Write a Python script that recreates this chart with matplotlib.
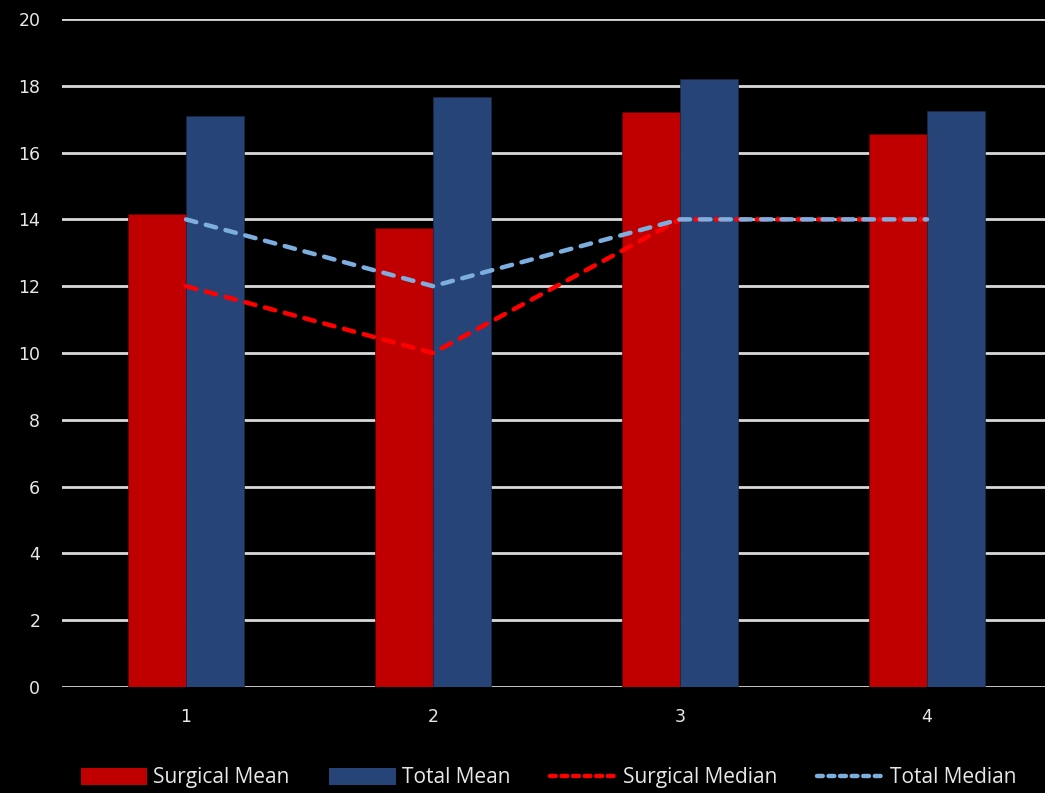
import numpy as np
import matplotlib.pyplot as plt
from matplotlib.patches import Patch
from matplotlib.lines import Line2D

categories = ["1", "2", "3", "4"]
surgical_mean = [14.15, 13.75, 17.2, 16.55]
total_mean = [17.1, 17.65, 18.2, 17.25]
surgical_median = [12, 10, 14, 14]
total_median = [14, 12, 14, 14]

RED_BAR = "#c00000"
BLUE_BAR = "#264478"
RED_LINE = "#ff0000"
BLUE_LINE = "#7cafdf"
GRID = "#d9d9d9"
TEXT = "#e8e8e8"

plt.rcParams["font.family"] = ["DejaVu Sans"]

fig = plt.figure(figsize=(10.45, 7.93), dpi=100, facecolor="black")
ax = fig.add_axes([0.0598, 0.1337, 0.9455, 0.8424], facecolor="black")

x = np.arange(len(categories))
w = 0.236
DASH = (0, (2.4, 2.2))
ax.bar(x - w / 2, surgical_mean, w, color=RED_BAR, edgecolor="#5a0000",
       linewidth=0.5, zorder=3)
ax.bar(x + w / 2, total_mean, w, color=BLUE_BAR, edgecolor="#1a2a45",
       linewidth=0.5, zorder=3)
ax.plot(x, surgical_median, color=RED_LINE, lw=3.2, ls=DASH,
        zorder=4, dash_capstyle="round")
ax.plot(x, total_median, color=BLUE_LINE, lw=3.2, ls=DASH,
        zorder=5, dash_capstyle="round")

ax.set_xlim(-0.5, 3.5)
ax.set_ylim(0, 20)
ax.set_yticks(range(0, 21, 2))
ax.set_xticks(x)
ax.set_xticklabels(categories)
ax.yaxis.grid(True, color=GRID, linewidth=2)
ax.set_axisbelow(True)
for s in ax.spines.values():
    s.set_visible(False)
ax.tick_params(axis="both", length=0, colors=TEXT, labelsize=12.5)
ax.tick_params(axis="y", pad=16)
ax.tick_params(axis="x", pad=15)

handles = [
    Patch(facecolor=RED_BAR, label="Surgical Mean"),
    Patch(facecolor=BLUE_BAR, label="Total Mean"),
    Line2D([], [], color=RED_LINE, lw=3.2, ls=(0, (1.3, 1.3)),
           dash_capstyle="round", label="Surgical Median"),
    Line2D([], [], color=BLUE_LINE, lw=3.2, ls=(0, (1.3, 1.3)),
           dash_capstyle="round", label="Total Median"),
]
leg = fig.legend(handles=handles, loc="center", bbox_to_anchor=(0.525, 0.019),
                 ncol=4, frameon=False, labelcolor=TEXT,
                 handlelength=3.2, handleheight=0.9, handletextpad=0.3,
                 columnspacing=1.9,
                 prop={"family": ["Open Sans", "DejaVu Sans"], "size": 15})

fig.savefig("out.png", dpi=100, facecolor="black")
